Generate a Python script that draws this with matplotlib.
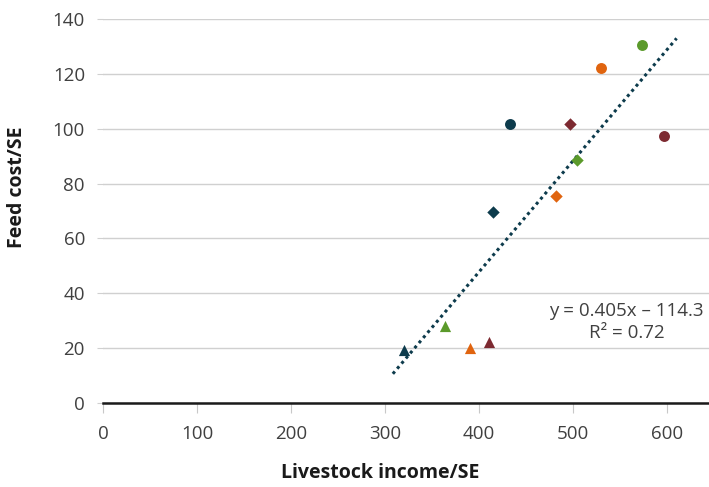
import matplotlib.pyplot as plt

plt.rcParams['font.family'] = ['Open Sans', 'DejaVu Sans']

# farm groups: colour = group, marker = year
income = [320, 364, 391, 411, 415, 433, 482, 497, 505, 530, 574, 597]
feed_cost = [19.3, 28, 20, 22.2, 69.6, 101.7, 75.5, 101.7, 88.6, 122, 130.5, 97.3]
colors = ['#0d3b4c', '#5b9a2b', '#e0640f', '#7d2a31',
          '#0d3b4c', '#0d3b4c', '#e0640f', '#7d2a31',
          '#5b9a2b', '#e0640f', '#5b9a2b', '#7d2a31']
markers = ['^', '^', '^', '^', 'D', 'o', 'D', 'D', 'D', 'o', 'o', 'o']

slope = 0.405
intercept = -114.3
trend_x = [308.5, 610.5]
trend_y = [slope * v + intercept for v in trend_x]

fig = plt.figure(figsize=(7.09, 4.87), dpi=100)
ax = fig.add_axes([103 / 709, 1 - 403 / 487, 606 / 709, 384 / 487])

ax.plot(trend_x, trend_y, linestyle=(0, (1, 1.2)), color='#0d3b4c', lw=2.2, zorder=2)

for x, y, c, m in zip(income, feed_cost, colors, markers):
    size = 62 if m == 'o' else (65 if m == '^' else 40)
    ax.scatter(x, y, color=c, marker=m, s=size, zorder=3, linewidths=0)

ax.set_xlim(0, 645)
ax.set_ylim(0, 140)
ax.set_xticks(range(0, 700, 100))
ax.set_yticks(range(0, 160, 20))
ax.grid(axis='y', color='#d0d0d0', lw=1)
ax.set_axisbelow(True)

for s in ['top', 'right', 'left']:
    ax.spines[s].set_visible(False)
ax.spines['bottom'].set_color('#1a1a1a')
ax.spines['bottom'].set_linewidth(1.8)
ax.spines['bottom'].set_zorder(4)

ax.tick_params(axis='y', length=4, color='#d0d0d0', labelsize=13.5, labelcolor='#404040', pad=9)
ax.tick_params(axis='x', length=7, color='#c8c8c8', labelsize=13.5, labelcolor='#404040', pad=9)

ax.set_xlabel('Livestock income/SE', fontsize=14, fontweight='bold', color='#1a1a1a')
ax.set_ylabel('Feed cost/SE', fontsize=14, fontweight='bold', color='#1a1a1a')
ax.xaxis.set_label_coords(0.457, -0.155)
ax.yaxis.set_label_coords(-0.125, 0.5625)

ax.text(557, 29.5, 'y = 0.405x \u2013 114.3\nR\u00b2 = 0.72', ha='center', va='center',
        multialignment='center', fontsize=13.5, color='#404040', linespacing=1.3)

fig.savefig('out.png', dpi=100)
